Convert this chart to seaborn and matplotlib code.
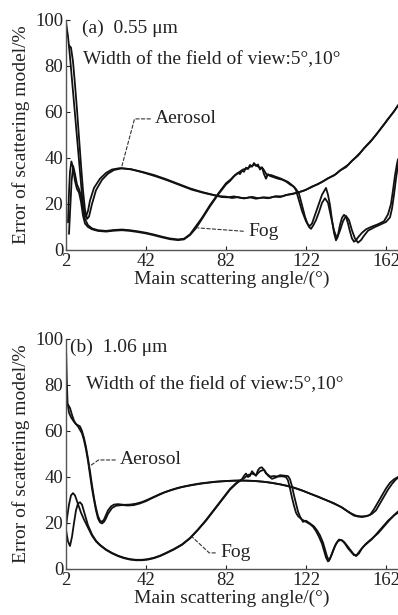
import matplotlib
matplotlib.use('Agg')
import seaborn as sns
from matplotlib import pyplot as plt

# ---- panel (a) 0.55 um ----
a_aer5_x = [2, 3, 4, 5, 6, 7, 8, 9, 10, 11, 12, 13, 14, 16, 19, 22, 25, 29, 34, 40,
            46, 52, 58, 64, 70, 76, 79, 82, 85, 88, 91, 94, 97, 100, 103, 106, 109, 112, 115, 118,
            121, 124, 127, 130, 133, 136, 139, 142, 145, 148, 151, 154, 157, 160, 163, 166, 168]
a_aer5_y = [99, 93, 84, 74, 64, 54, 44, 34, 24, 16.5, 14.5, 17, 21.5, 27, 31, 33.5, 35, 35.6, 35.2, 34.0,
            32.6, 30.8, 28.8, 26.8, 25.2, 23.9, 23.4, 23.2, 22.6, 23.0, 22.4, 22.9, 22.3, 22.8, 22.5, 23.2, 23.0, 23.9, 24.3, 25.0,
            25.8, 27.0, 28.3, 29.6, 31.2, 32.4, 34.6, 36.0, 38.8, 41.0, 44.2, 46.8, 50.0, 53.5, 57.0, 60.2, 63.0]

a_aer10_x = [3.5, 4.5, 5.5, 6.5, 7.5, 8.5, 9.5, 10.5, 11.5, 12.5, 13.5, 15, 17, 20, 23, 26, 30, 35, 41, 47,
             53, 59, 65, 71, 77, 80, 83, 86, 89, 92, 95, 98, 101, 104, 107, 110, 113, 116, 119, 122,
             125, 128, 131, 134, 137, 140, 143, 146, 149, 152, 155, 158, 161, 164, 167, 168]
a_aer10_y = [89, 88, 82, 72, 61, 49, 37, 26, 17.5, 13.5, 14.5, 20, 26, 30.5, 33.2, 34.8, 35.5, 35.0, 33.6, 32.0,
             30.2, 28.2, 26.2, 24.8, 23.6, 23.0, 22.9, 23.3, 22.7, 22.6, 23.1, 22.5, 22.9, 22.7, 23.4, 23.3, 24.1, 24.6, 25.3, 26.2,
             27.6, 28.6, 30.1, 31.6, 33.0, 35.2, 37.0, 39.6, 42.2, 45.2, 48.0, 51.2, 54.5, 58.0, 61.5, 62.6]

a_fog5_x = [3, 3.5, 4, 4.7, 5.5, 6.5, 7.5, 8.5, 9.5, 10.5, 11.5, 13, 15, 18, 22, 26, 30, 34, 38, 42,
            46, 50, 54, 58, 61, 64, 67, 70, 74, 78, 82, 84, 86, 88, 89, 90, 91, 92, 93, 94,
            95, 96, 97, 98, 99, 100, 101, 102, 103, 104, 106, 108, 110, 112, 114, 116, 117, 118, 120, 122,
            123, 124, 125, 126, 128, 130, 132, 133, 134, 135, 136, 137, 138, 139, 140, 141, 142, 143, 144, 145,
            146, 147, 148, 150, 152, 155, 158, 161, 163, 164.5, 165.5, 166.5, 167.5, 168]
a_fog5_y = [12, 25, 34, 38.5, 36, 30, 26.5, 25, 21, 15, 11.5, 10, 9, 8.3, 8.0, 8.4, 8.6, 8.3, 7.8, 7.2,
            6.4, 5.5, 4.7, 4.3, 4.6, 6.5, 9.5, 13.5, 19, 24, 28.5, 30, 32, 33.5, 33, 34.5, 34, 35.8, 35.2, 37,
            36.2, 37.8, 36.5, 37.2, 35, 36, 33, 31, 33, 32.2, 31.6, 31, 30.6, 29.8, 28.5, 27.5, 26, 23, 17, 12.5,
            11, 10.5, 11.5, 14, 19, 24, 27, 24, 19.5, 13, 7.5, 4.2, 6.5, 11, 14, 15.3, 14.5, 11.5, 8, 5,
            3.6, 4.2, 5.5, 7.5, 9, 10.2, 11.2, 12.5, 15.5, 20, 26, 32.5, 37.5, 39.5]

a_fog10_x = [3.5, 4, 4.8, 5.6, 6.5, 7.5, 8.5, 9.5, 10.5, 11.5, 13, 15, 18, 22, 26, 30, 34, 38, 42, 46,
             50, 54, 58, 61, 64, 67, 70, 74, 78, 82, 84.5, 86.5, 88.5, 90.5, 92.5, 94.5, 96.5, 98.5, 100.5, 102.5,
             104.5, 107, 109, 111, 113, 115, 117, 118.5, 120, 121.5, 122.5, 123.5, 124.5, 125.5, 127, 128.5, 130, 131.5, 133, 134.5,
             136, 137.5, 139, 140.5, 142, 143.5, 145, 146.5, 148, 149.5, 151, 153, 156, 159, 162, 164, 165, 166, 167, 168]
a_fog10_y = [7, 16, 30, 36.5, 33, 28.5, 26.5, 23.5, 18, 13.5, 10.8, 9.4, 8.6, 8.3, 8.7, 8.9, 8.6, 8.1, 7.5, 6.7,
             5.8, 5.0, 4.6, 4.9, 6.8, 10.4, 14, 19.5, 24.4, 29, 30.8, 32.6, 33.8, 35, 35.4, 36.4, 37.2, 36, 35.4, 32.5,
             32.6, 31.8, 31.2, 30.4, 29.6, 28.2, 26.5, 24.5, 19.5, 14.5, 12, 10, 9.2, 10.5, 13, 16.5, 20.5, 22.5, 20.5, 14.5,
             8.5, 5, 8.5, 12.5, 14.8, 13, 8.5, 5, 3.2, 4.3, 6.2, 8.4, 9.8, 11.0, 12.2, 14.2, 18, 24, 31, 37]

# ---- panel (b) 1.06 um ----
b_aer5_x = [2, 2.4, 2.8, 3.5, 4.5, 6, 8, 10, 11, 12, 13, 14, 15, 16, 17, 18, 19, 20, 21, 22,
            23, 25, 27, 30, 33, 36, 39, 42, 45, 48, 51, 54, 57, 60, 64, 68, 72, 76, 80, 84,
            88, 92, 96, 100, 104, 108, 112, 116, 120, 124, 128, 132, 136, 139, 142, 144, 146, 148, 150, 152,
            154, 156, 158, 160, 162, 164, 166, 168]
b_aer5_y = [97, 82, 72, 68, 66, 64, 62, 59, 56, 52, 47, 41, 35, 30, 25.5, 22, 20.3, 19.8, 20.5, 22,
            24, 26.5, 27.5, 27.8, 27.6, 27.8, 28.5, 29.5, 30.8, 32.0, 33.2, 34.1, 34.9, 35.6, 36.3, 36.9, 37.4, 37.8, 38.1, 38.3,
            38.4, 38.4, 38.3, 38.0, 37.6, 37.0, 36.3, 35.4, 34.2, 32.8, 31.5, 30.0, 28.6, 27.2, 25.5, 24.3, 23.2, 22.8, 22.6, 22.9,
            23.5, 26, 29, 32, 35, 37.5, 39, 40]

b_aer10_x = [2, 3, 4, 5, 6, 7, 8, 9, 10, 11, 12, 13, 14, 15, 16, 17, 18, 19, 20, 21,
             22, 23, 24.5, 26, 28, 31, 34, 37, 40, 43, 46, 49, 52, 55, 58, 61, 65, 69, 73, 77,
             81, 85, 89, 93, 97, 101, 105, 109, 113, 117, 121, 125, 129, 133, 137, 140, 143, 145, 147, 149,
             151, 153, 155, 157, 159, 161, 163, 165, 167, 168]
b_aer10_y = [72, 71.5, 70, 67, 64.5, 63, 62.5, 62, 60, 57, 53, 48, 42.5, 36.5, 31, 26.5, 23, 21, 20.5, 21.5,
             23.5, 25.5, 27.2, 28, 28.2, 27.9, 28.0, 28.4, 29.1, 30.2, 31.4, 32.6, 33.6, 34.5, 35.3, 35.9, 36.6, 37.2, 37.6, 38.0,
             38.2, 38.4, 38.5, 38.4, 38.2, 37.9, 37.4, 36.8, 36.0, 35.0, 33.8, 32.4, 31.0, 29.6, 28.0, 26.8, 25.0, 24.0, 23.2, 22.9,
             22.9, 23.2, 24.0, 25.5, 28.5, 31.5, 34.5, 37.0, 39.0, 39.6]

b_fog5_x = [2, 2.5, 3.5, 4.5, 5.5, 6.5, 7.5, 8.5, 9.5, 11, 13, 15, 17, 19, 22, 25, 28, 31, 34, 37,
            40, 43, 46, 49, 52, 56, 60, 64, 68, 72, 76, 80, 84, 87, 89, 90, 91, 92, 93, 94,
            95, 96, 97, 98, 99, 100, 101, 102, 103, 104, 106, 108, 110, 112, 113, 114, 115, 116, 117, 118,
            120, 122, 124, 125.5, 127, 128.5, 130, 131, 132, 133, 134, 135.5, 137, 138.5, 140, 141.5, 143, 144.5, 146, 147.5,
            149, 151, 153, 155, 157, 159, 161, 163, 165, 167, 168]
b_fog5_y = [18, 22, 28, 32, 33, 32, 29.5, 27, 24.5, 21.5, 18, 14.5, 12, 10.3, 8.3, 6.8, 5.6, 4.7, 4.1, 3.8,
            3.8, 4.1, 4.7, 5.6, 6.8, 8.5, 10.5, 13.3, 17, 21, 25.5, 30, 34.5, 37, 38.5, 39, 40.5, 41.5, 40, 40.5,
            42.5, 41.5, 40.5, 43, 44, 44.2, 43, 41.5, 41, 40.2, 40.4, 40.2, 40.3, 40, 38.5, 35, 31, 27.5, 24.5, 23,
            21.5, 20.5, 19.5, 18.4, 16.5, 14, 11, 8, 5, 3.3, 4.5, 8, 11, 12.8, 12.5, 11, 9, 7.5, 6, 6.2,
            8, 10, 11.5, 13, 15, 17, 19, 21, 22.5, 24.2, 25]

b_fog10_x = [2, 3, 4, 5, 6, 7, 8, 9, 10, 11, 12, 13, 15, 17, 19, 22, 25, 28, 31, 34,
             37, 40, 43, 46, 49, 52, 56, 60, 64, 68, 72, 76, 80, 84, 87, 89, 91, 93, 95, 97,
             99, 101, 103, 105, 107, 109, 111, 113, 114, 115, 116, 117, 118, 119, 120.5, 122, 124, 126, 127.5, 129,
             130.5, 131.5, 132.5, 133.5, 135, 136.5, 138, 139.5, 141, 142.5, 144, 145.5, 147, 148.5, 150, 152, 154, 156, 158, 160,
             162, 164, 166, 168]
b_fog10_y = [17, 12, 10, 14, 20, 25.5, 28.5, 29, 28, 25, 22, 19, 15, 12.3, 10.5, 8.5, 7.0, 5.8, 4.9, 4.3,
             4.0, 4.0, 4.3, 4.9, 5.8, 7.0, 8.7, 10.7, 13.5, 17.2, 21.3, 25.8, 30.3, 34.8, 37.3, 38.3, 39.5, 40.8, 41.5, 40.8,
             42.5, 43.2, 40.6, 39.2, 39.8, 40.8, 40.6, 40.4, 39, 36, 32, 28.5, 25, 22.8, 20.5, 21, 19.8, 18.5, 16.8, 14.6,
             11.5, 8.5, 5.5, 3.6, 6.5, 10, 12.2, 12.6, 11.8, 10.2, 8.5, 6.8, 5.6, 6.8, 9, 11, 12.5, 14, 15.5, 17.5,
             19.5, 21.5, 23.3, 24.5]

x_ticks = [2, 42, 82, 122, 162]
y_ticks = [0, 20, 40, 60, 80, 100]
fov_text = 'Width of the field of view:5°,10°'

sns.set_style('ticks')
plt.rcParams['font.family'] = ['Liberation Serif', 'DejaVu Serif']

fig = plt.figure(figsize=(3.98, 6.15), dpi=100)
ax_a = fig.add_axes([0.1658, 0.5935, 0.8342, 0.374])
ax_b = fig.add_axes([0.1658, 0.0748, 0.8342, 0.374])

panels = [
    (ax_a, [(a_aer5_x, a_aer5_y), (a_aer10_x, a_aer10_y), (a_fog5_x, a_fog5_y), (a_fog10_x, a_fog10_y)]),
    (ax_b, [(b_aer5_x, b_aer5_y), (b_aer10_x, b_aer10_y), (b_fog5_x, b_fog5_y), (b_fog10_x, b_fog10_y)]),
]

for ax, curves in panels:
    for xs, ys in curves:
        sns.lineplot(x=xs, y=ys, ax=ax, color='#111111', lw=1.3, estimator=None, sort=False)
    ax.set_xlim(2, 168)
    ax.set_ylim(0, 100)
    ax.set_xticks(x_ticks)
    ax.set_yticks(y_ticks)
    ax.tick_params(direction='in', length=3, width=0.8, labelsize=13.5, pad=2, colors='#222')
    sns.despine(ax=ax)
    for side in ['left', 'bottom']:
        ax.spines[side].set_color('#555')
        ax.spines[side].set_linewidth(1.0)
    ax.set_xlabel('Main scattering angle/(°)', fontsize=14, labelpad=1, color='#222')
    ax.set_ylabel('Error of scattering model/%', fontsize=14, labelpad=4, color='#222')

leader = dict(arrowstyle='-', linestyle=(0, (3, 2)), lw=0.8, color='#333',
              shrinkA=1, shrinkB=0, relpos=(0, 0.5))

ax_a.text(10, 96.5, '(a)  0.55 μm', fontsize=14, va='center', color='#222')
ax_a.text(10.5, 82.6, fov_text, fontsize=14, va='center', color='#222')
ax_a.annotate('Aerosol', xy=(29.8, 36), xytext=(46.5, 57), fontsize=14, va='center', color='#222',
              arrowprops=dict(leader, connectionstyle='angle,angleA=0,angleB=75,rad=0'))
ax_a.annotate('Fog', xy=(68, 9.6), xytext=(93, 8), fontsize=14, va='center', color='#222',
              arrowprops=dict(leader, connectionstyle='arc3'))

ax_b.text(4, 96.5, '(b)  1.06 μm', fontsize=14, va='center', color='#222')
ax_b.text(12, 80, fov_text, fontsize=14, va='center', color='#222')
ax_b.annotate('Aerosol', xy=(13.5, 44.5), xytext=(29, 47.4), fontsize=14, va='center', color='#222',
              arrowprops=dict(leader, connectionstyle='angle,angleA=0,angleB=35,rad=0'))
ax_b.annotate('Fog', xy=(65, 14), xytext=(79, 7), fontsize=14, va='center', color='#222',
              arrowprops=dict(leader, connectionstyle='angle,angleA=0,angleB=-43,rad=0'))

fig.savefig('out.png', dpi=100)
